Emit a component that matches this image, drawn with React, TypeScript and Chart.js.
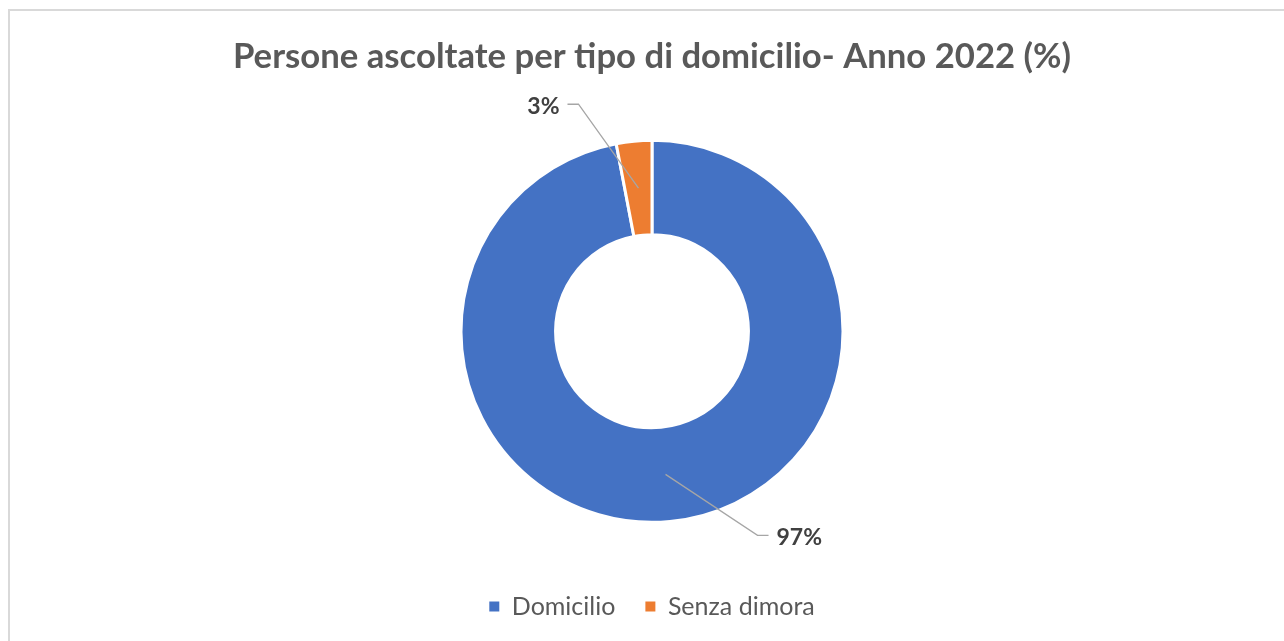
import React, { useEffect, useRef } from "react";
import { Chart, registerables } from "chart.js";

Chart.register(...registerables);

const TITLE = "Persone ascoltate per tipo di domicilio- Anno 2022 (%)";
const categories = ["Domicilio", "Senza dimora"];
const values = [97, 3];
const valueLabels = ["97%", "3%"];
const colors = ["#4472C4", "#ED7D31"];
// leader-line elbow offsets from the slice anchor (style only)
const labelOffsets = [
  [92, 61],
  [-60, -84],
];

const FONT = "Lato, 'Open Sans', sans-serif";

const leaderLabels = {
  id: "leaderLabels",
  afterDatasetsDraw(chart: any) {
    const ctx = chart.ctx;
    const meta = chart.getDatasetMeta(0);
    meta.data.forEach((arc: any, i: number) => {
      const p = arc.getProps(["x", "y", "startAngle", "endAngle", "innerRadius", "outerRadius"], true);
      const mid = (p.startAngle + p.endAngle) / 2;
      const r = (p.innerRadius + p.outerRadius) / 2;
      const ax = p.x + Math.cos(mid) * r;
      const ay = p.y + Math.sin(mid) * r;
      const [dx, dy] = labelOffsets[i];
      const ex = ax + dx;
      const ey = ay + dy;
      const dir = dx >= 0 ? 1 : -1;
      const hx = ex + dir * 11;
      ctx.save();
      ctx.strokeStyle = "#A6A6A6";
      ctx.lineWidth = 1.3;
      ctx.beginPath();
      ctx.moveTo(ax, ay);
      ctx.lineTo(ex, ey);
      ctx.lineTo(hx, ey);
      ctx.stroke();
      ctx.fillStyle = "#404040";
      ctx.font = `bold 23px ${FONT}`;
      ctx.textBaseline = "middle";
      ctx.textAlign = dir > 0 ? "left" : "right";
      ctx.fillText(valueLabels[i], hx + dir * 8, ey + 2);
      ctx.restore();
    });
  },
};

export default function App() {
  const ref = useRef<HTMLCanvasElement>(null);
  useEffect(() => {
    if (!ref.current) return;
    const chart = new Chart(ref.current, {
      type: "doughnut",
      data: {
        labels: categories,
        datasets: [
          {
            data: values,
            backgroundColor: colors,
            borderColor: "#FFFFFF",
            borderWidth: 3,
            hoverOffset: 0,
          },
        ],
      },
      options: {
        responsive: false,
        animation: false,
        radius: 191,
        cutout: "50.5%",
        layout: { padding: 0 },
        plugins: {
          title: {
            display: true,
            text: TITLE,
            color: "#595959",
            font: { family: FONT, size: 34.7, weight: "bold" },
            padding: { top: 26, bottom: 21 },
          },
          legend: {
            position: "bottom",
            labels: {
              color: "#595959",
              font: { family: FONT, size: 25 },
              boxWidth: 10,
              boxHeight: 10,
              padding: 30,
              generateLabels: (chart: any) =>
                Chart.overrides.doughnut.plugins.legend.labels
                  .generateLabels(chart)
                  .map((l: any) => ({ ...l, lineWidth: 0, strokeStyle: l.fillStyle })),
            },
          },
          tooltip: { enabled: false },
        },
      } as any,
      plugins: [leaderLabels],
    });
    return () => chart.destroy();
  }, []);
  return (
    <div
      style={{
        position: "fixed",
        left: 0,
        top: 0,
        width: 1284,
        height: 641,
        overflow: "hidden",
        background: "#fff",
      }}
    >
      <div
        style={{
          position: "absolute",
          left: 8,
          top: 9,
          width: 1400,
          height: 700,
          borderTop: "2px solid #D9D9D9",
          borderLeft: "2px solid #D9D9D9",
        }}
      />
      <canvas
        ref={ref}
        width={1284}
        height={619}
        style={{ position: "absolute", left: 10, top: 10, width: 1284, height: 619 }}
      />
    </div>
  );
}
